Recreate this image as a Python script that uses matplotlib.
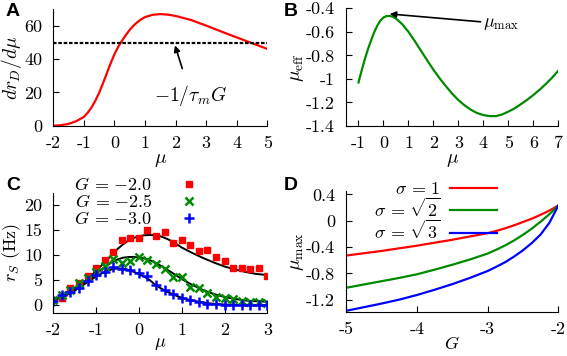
import numpy as np
import matplotlib
matplotlib.use("Agg")
import matplotlib.pyplot as plt

plt.rcParams['font.family'] = ['cmr10', 'DejaVu Serif']
plt.rcParams['mathtext.fontset'] = 'cm'
plt.rcParams['axes.unicode_minus'] = False
plt.rcParams['axes.formatter.use_mathtext'] = False

RED = '#ff0000'
GREEN = '#008a00'
BLUE = '#0000ff'

# Panel A: drD/dmu curve
mu_a = [-2, -1.75, -1.5, -1.25, -1, -0.875, -0.75, -0.625, -0.5, -0.375,
        -0.25, -0.125, 0, 0.125, 0.25, 0.375, 0.5, 0.625, 0.75, 0.875, 1,
        1.25, 1.5, 1.75, 2, 2.5, 3, 3.5, 4, 4.5, 5]
drd_a = [0, 0.3, 1.1, 2.7, 5.3, 7.8, 11.0, 15.0, 19.8, 25.5, 31.5, 37.5,
         43.0, 47.5, 51.2, 54.6, 57.6, 60.2, 62.3, 64.0, 65.3, 66.7, 67.1,
         66.8, 66.0, 63.6, 60.2, 56.6, 53.1, 49.6, 46.2]
thresh_a = 50

# Panel B: mu_eff curve
mu_b = [-1, -0.875, -0.75, -0.625, -0.5, -0.375, -0.25, -0.125, 0, 0.125,
        0.25, 0.375, 0.5, 0.75, 1, 1.25, 1.5, 1.75, 2, 2.25, 2.5, 2.75, 3,
        3.25, 3.5, 3.75, 4, 4.25, 4.5, 4.75, 5, 5.25, 5.5, 5.75, 6, 6.25,
        6.5, 6.75, 7]
mueff_b = [-1.03, -0.93, -0.835, -0.75, -0.675, -0.605, -0.548, -0.505,
           -0.478, -0.466, -0.465, -0.472, -0.487, -0.535, -0.60, -0.677,
           -0.76, -0.842, -0.922, -0.995, -1.062, -1.125, -1.18, -1.225,
           -1.262, -1.29, -1.307, -1.316, -1.316, -1.302, -1.278, -1.25,
           -1.215, -1.178, -1.137, -1.092, -1.043, -0.99, -0.93]

# Panel C: simulated rates and fits
mu_c = [-2.0, -1.8, -1.6, -1.4, -1.2, -1.0, -0.8, -0.6, -0.4, -0.2, 0.0, 0.2,
        0.4, 0.6, 0.8, 1.0, 1.2, 1.4, 1.6, 1.8, 2.0, 2.2, 2.4, 2.6, 2.8, 3.0]
rs_g20 = [1.0, 1.5, 3.5, 4.4, 5.8, 7.4, 9.0, 10.7, 13.0, 13.4, 13.5, 15.1,
          13.9, 14.6, 12.5, 13.1, 12.0, 10.9, 11.1, 9.6, 8.8, 7.5, 7.5, 7.3,
          7.4, 5.8]
rs_g25 = [1.0, 2.0, 3.0, 4.5, 5.5, 6.6, 7.8, 9.2, 8.5, 8.9, 9.7, 9.0, 8.2,
          7.2, 5.6, 5.6, 3.6, 3.5, 2.4, 1.6, 1.5, 1.2, 0.8, 0.7, 0.6, 0.5]
rs_g30 = [0.8, 2.1, 2.7, 3.5, 4.8, 6.0, 6.6, 7.6, 7.3, 7.0, 6.4, 5.8, 4.1,
          3.1, 2.2, 1.4, 1.0, 0.6, 0.3, 0.2, 0.1, 0.1, 0.0, 0.0, 0.0, 0.0]
mu_fit = [-2, -1.875, -1.75, -1.625, -1.5, -1.375, -1.25, -1.125, -1, -0.875,
          -0.75, -0.625, -0.5, -0.375, -0.25, -0.125, 0, 0.125, 0.25, 0.375,
          0.5, 0.625, 0.75, 0.875, 1, 1.125, 1.25, 1.375, 1.5, 1.625, 1.75,
          1.875, 2, 2.125, 2.25, 2.375, 2.5, 2.625, 2.75, 2.875, 3]
fit_g20 = [1.0, 1.4, 1.9, 2.45, 3.1, 3.9, 4.8, 5.8, 6.8, 7.9, 9.0, 10.1,
           11.2, 12.1, 12.9, 13.4, 13.75, 13.95, 14.0, 13.95, 13.75, 13.35,
           12.85, 12.2, 11.5, 10.95, 10.4, 9.9, 9.4, 8.95, 8.5, 8.1, 7.7,
           7.4, 7.1, 6.85, 6.6, 6.4, 6.2, 6.1, 6.0]
fit_g25 = [1.0, 1.4, 1.8, 2.3, 2.9, 3.6, 4.4, 5.3, 6.2, 7.1, 7.9, 8.6, 9.1,
           9.45, 9.6, 9.6, 9.5, 9.3, 9.0, 8.5, 7.9, 7.25, 6.6, 5.9, 5.2, 4.6,
           4.0, 3.5, 3.0, 2.6, 2.2, 1.9, 1.6, 1.4, 1.2, 1.05, 0.9, 0.8, 0.75,
           0.7, 0.65]
fit_g30 = [0.9, 1.3, 1.8, 2.3, 2.9, 3.6, 4.3, 5.0, 5.7, 6.3, 6.8, 7.15, 7.3,
           7.25, 7.0, 6.65, 6.2, 5.65, 5.0, 4.1, 3.4, 2.8, 2.3, 1.85, 1.45,
           1.15, 0.9, 0.7, 0.5, 0.35, 0.25, 0.17, 0.1, 0.07, 0.05, 0.03,
           0.02, 0.01, 0.0, 0.0, 0.0]
labels_c = [r'$G\,=\,{-}2.0$', r'$G\,=\,{-}2.5$', r'$G\,=\,{-}3.0$']

# Panel D: mu_max vs G
g_d = [-5, -4.75, -4.5, -4.25, -4, -3.75, -3.5, -3.25, -3, -2.875, -2.75,
       -2.625, -2.5, -2.375, -2.25, -2.125, -2]
mumax_s1 = [-0.53, -0.495, -0.46, -0.42, -0.38, -0.335, -0.29, -0.24, -0.19,
            -0.155, -0.115, -0.07, -0.02, 0.03, 0.09, 0.155, 0.23]
mumax_s2 = [-1.02, -0.97, -0.92, -0.87, -0.815, -0.745, -0.67, -0.59, -0.50,
            -0.44, -0.375, -0.3, -0.215, -0.12, -0.015, 0.1, 0.23]
mumax_s3 = [-1.37, -1.315, -1.26, -1.2, -1.13, -1.05, -0.965, -0.87, -0.765,
            -0.70, -0.63, -0.545, -0.45, -0.34, -0.21, -0.03, 0.23]
labels_d = [r'$\sigma\,=\,1$', r'$\sigma\,=\,\sqrt{2}$',
            r'$\sigma\,=\,\sqrt{3}$']

W, H = 567, 356
fig = plt.figure(figsize=(W / 100, H / 100), dpi=100)


def box(l, r, t, b):
    return [l / W, 1 - b / H, (r - l) / W, (b - t) / H]


def style(ax):
    ax.spines['top'].set_visible(False)
    ax.spines['right'].set_visible(False)
    ax.tick_params(direction='in', length=4, width=0.8, labelsize=13,
                   top=False, right=False)
    ax.tick_params(axis='x', pad=7)
    ax.tick_params(axis='y', pad=8)


axA = fig.add_axes(box(53.3, 267.3, 9.3, 125.7))
axB = fig.add_axes(box(346, 558.3, 8.3, 126))
axC = fig.add_axes(box(53.3, 267.3, 192.5, 312.5))
axD = fig.add_axes(box(346, 558.3, 191.1, 311.5))

# A
axA.plot(mu_a, drd_a, color=RED, lw=1.6)
axA.axhline(thresh_a, color='black', lw=1.6, ls=(0, (1.6, 0.8)))
axA.annotate(r'$-1/\tau_m G$', xy=(1.98, 48.3), xytext=(2.5, 18),
             ha='center', va='center', fontsize=14,
             arrowprops=dict(arrowstyle='-|>', color='black', lw=1.2,
                             mutation_scale=9, shrinkA=9, shrinkB=0))
axA.set_xlim(-2, 5)
axA.set_ylim(0, 70)
axA.set_xticks(range(-2, 6))
axA.set_xticklabels([str(v) for v in range(-2, 6)])
axA.set_yticks([0, 20, 40, 60])
axA.set_ylabel(r'$dr_D/d\mu$', fontsize=14, labelpad=0)
axA.set_xlabel(r'$\mu$', fontsize=14, labelpad=0)
style(axA)

# B
axB.plot(mu_b, mueff_b, color=GREEN, lw=1.6)
axB.annotate(r'$\mu_{\rm max}$', xy=(0.25, -0.448), xytext=(4.0, -0.53),
             ha='left', va='center', fontsize=13,
             arrowprops=dict(arrowstyle='-|>', color='black', lw=1.2,
                             mutation_scale=9, shrinkA=0, shrinkB=0))
axB.set_xlim(-1.5, 7)
axB.set_ylim(-1.4, -0.4)
axB.set_xticks(range(-1, 8))
axB.set_xticklabels([str(v) for v in range(-1, 8)])
yb = [-1.4, -1.2, -1.0, -0.8, -0.6, -0.4]
axB.set_yticks(yb)
axB.set_yticklabels(['-1.4', '-1.2', '-1', '-0.8', '-0.6', '-0.4'])
axB.set_ylabel(r'$\mu_{\rm eff}$', fontsize=14, labelpad=0)
axB.set_xlabel(r'$\mu$', fontsize=14, labelpad=0)
style(axB)

# C
axC.plot(mu_fit, fit_g20, color='black', lw=1.4)
axC.plot(mu_fit, fit_g25, color='black', lw=1.4)
axC.plot(mu_fit, fit_g30, color='black', lw=1.4)
axC.plot(mu_c, rs_g20, ls='none', marker='s', ms=5, color=RED,
         label=labels_c[0])
axC.plot(mu_c, rs_g25, ls='none', marker='x', ms=6, mew=1.8, color=GREEN,
         label=labels_c[1])
axC.plot(mu_c, rs_g30, ls='none', marker='+', ms=7, mew=1.8, color=BLUE,
         label=labels_c[2])
axC.set_xlim(-2, 3)
axC.set_ylim(-1.5, 22.5)
axC.set_xticks(range(-2, 4))
axC.set_xticklabels([str(v) for v in range(-2, 4)])
axC.set_yticks([0, 5, 10, 15, 20])
axC.set_ylabel(r'$r_S$ (Hz)', fontsize=13, labelpad=1)
axC.set_xlabel(r'$\mu$', fontsize=13, labelpad=-1)
style(axC)
axC.legend(loc='upper right', bbox_to_anchor=(0.675, 1.135), frameon=False,
           markerfirst=False, fontsize=13, handlelength=1.0,
           handletextpad=1.5, labelspacing=0.0, borderaxespad=0,
           borderpad=0)

# D
axD.plot(g_d, mumax_s1, color=RED, lw=1.6, label=labels_d[0])
axD.plot(g_d, mumax_s2, color=GREEN, lw=1.6, label=labels_d[1])
axD.plot(g_d, mumax_s3, color=BLUE, lw=1.6, label=labels_d[2])
axD.set_xlim(-5, -2)
axD.set_ylim(-1.38, 0.45)
axD.set_xticks([-5, -4, -3, -2])
axD.set_xticklabels(['-5', '-4', '-3', '-2'])
axD.set_yticks([-1.2, -0.8, -0.4, 0, 0.4])
axD.set_yticklabels(['-1.2', '-0.8', '-0.4', '0', '0.4'])
axD.set_ylabel(r'$\mu_{\rm max}$', fontsize=14, labelpad=0)
axD.set_xlabel(r'$G$', fontsize=13, labelpad=-1)
style(axD)
axD.legend(loc='upper right', bbox_to_anchor=(0.71, 1.08), frameon=False,
           markerfirst=False, fontsize=13, handlelength=2.6,
           handletextpad=0.5, labelspacing=-0.05, borderaxespad=0,
           borderpad=0)

# panel letters
for lab, x, y in [('A', 13, 12), ('B', 291, 12), ('C', 13, 185),
                  ('D', 291, 185)]:
    fig.text(x / W, 1 - y / H, lab, fontsize=14, fontweight='bold',
             family='Liberation Sans', ha='center', va='center')

fig.savefig('out.png', dpi=100)
